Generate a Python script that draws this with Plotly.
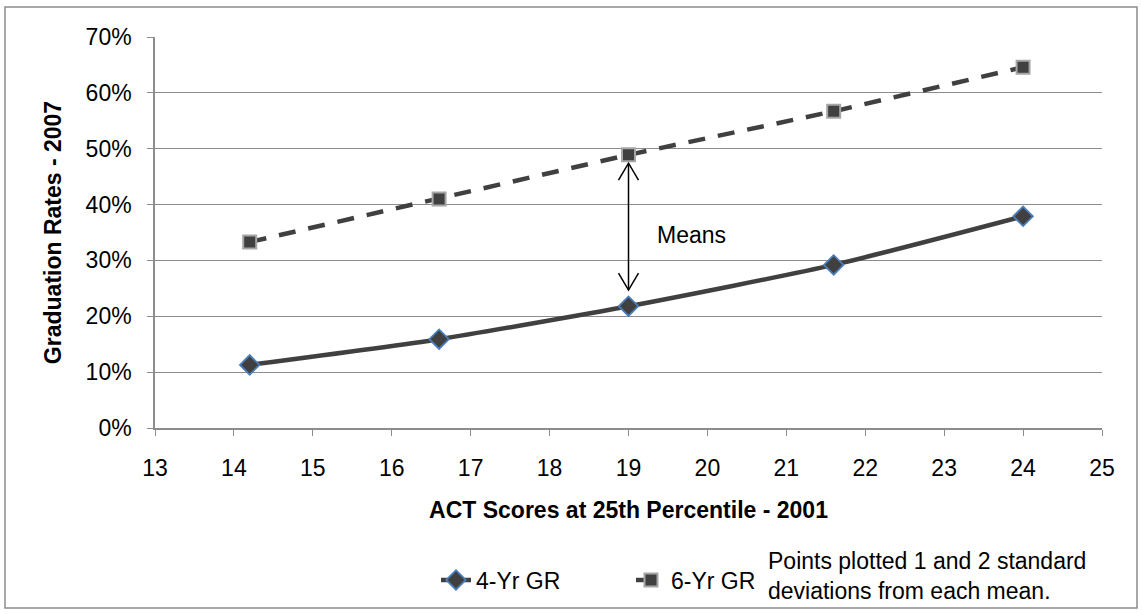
import plotly.graph_objects as go

# ACT score points (mean, +/-1 and +/-2 SD) and graduation rates
act_scores = [14.2, 16.6, 19.0, 21.6, 24.0]
grad_4yr = [0.113, 0.159, 0.218, 0.292, 0.379]
grad_6yr = [0.333, 0.410, 0.489, 0.567, 0.646]

# Double-headed arrow between the two means
mean_x = 19.0
arrow_top = 0.474
arrow_bottom = 0.247

y_ticks = [0, 0.1, 0.2, 0.3, 0.4, 0.5, 0.6, 0.7]
x_ticks = list(range(13, 26))

LINE = "#404040"
GRID = "#8c8c8c"
FONT = "Liberation Sans, Arial, sans-serif"
FS = 23

fig = go.Figure()

fig.add_trace(go.Scatter(
    x=act_scores, y=grad_4yr, name="4-Yr GR",
    mode="lines+markers",
    line=dict(color=LINE, width=4.5, shape="spline", smoothing=0.6),
    marker=dict(symbol="diamond", size=15, color=LINE,
                line=dict(color="#4a7ebb", width=1.8)),
))
fig.add_trace(go.Scatter(
    x=act_scores, y=grad_6yr, name="6-Yr GR",
    mode="lines+markers",
    line=dict(color=LINE, width=4.5, dash="17px,13px"),
    marker=dict(symbol="square", size=13, color=LINE,
                line=dict(color="#a6a6a6", width=2)),
))

# arrow shaft
fig.add_shape(
    type="line", xref="x", yref="y",
    x0=mean_x, x1=mean_x, y0=arrow_bottom, y1=arrow_top,
    line=dict(color="black", width=1.5),
)
# open arrow heads, sized in pixels around each tip
fig.add_shape(
    type="path", xref="x", yref="y",
    xsizemode="pixel", ysizemode="pixel",
    xanchor=mean_x, yanchor=arrow_top,
    path="M -10,-17 L 0,0 L 10,-17",
    line=dict(color="black", width=1.5),
)
fig.add_shape(
    type="path", xref="x", yref="y",
    xsizemode="pixel", ysizemode="pixel",
    xanchor=mean_x, yanchor=arrow_bottom,
    path="M -10,17 L 0,0 L 10,17",
    line=dict(color="black", width=1.5),
)

fig.add_annotation(
    x=19.33, y=0.345, xref="x", yref="y", xanchor="left",
    text="Means", showarrow=False, font=dict(size=FS, color="black"),
)
fig.add_annotation(
    x=(766 - 155) / 947, y=(428 - 576) / 391, xref="paper", yref="paper",
    xanchor="left", yanchor="middle", align="left",
    text="Points plotted 1 and 2 standard<br>deviations from each mean.",
    showarrow=False, font=dict(size=FS, color="black"),
)

# outer chart frame
fig.add_shape(
    type="rect", xref="paper", yref="paper",
    x0=(5 - 155) / 947, x1=(1137 - 155) / 947,
    y0=(428 - 608) / 391, y1=(428 - 7) / 391,
    line=dict(color="#8c8c8c", width=1.5), fillcolor="rgba(0,0,0,0)",
    layer="below",
)

fig.update_layout(
    width=1142, height=614,
    margin=dict(l=155, r=40, t=37, b=186),
    paper_bgcolor="white", plot_bgcolor="white",
    font=dict(family=FONT, size=FS, color="black"),
    showlegend=True,
    legend=dict(
        orientation="h", x=(436 - 155) / 947, xanchor="left",
        y=(428 - 580) / 391, yanchor="middle",
        font=dict(size=FS), entrywidth=150, entrywidthmode="pixels",
        tracegroupgap=0, bgcolor="rgba(0,0,0,0)",
    ),
    xaxis=dict(
        range=[13, 25], tickvals=x_ticks, ticks="outside", ticklen=6,
        tickcolor=GRID, showline=True, linecolor=GRID, linewidth=1.5,
        showgrid=False, zeroline=False, tickfont=dict(size=FS),
        ticklabelstandoff=13,
        title=dict(text="<b>ACT Scores at 25th Percentile - 2001</b>",
                   font=dict(size=FS), standoff=22),
    ),
    yaxis=dict(
        range=[0, 0.7], tickvals=y_ticks, tickformat=".0%",
        ticks="outside", ticklen=6, tickcolor=GRID,
        showline=True, linecolor=GRID, linewidth=1.5, tickfont=dict(size=FS),
        ticklabelstandoff=11,
        showgrid=True, gridcolor=GRID, gridwidth=1.2, zeroline=False,
        title=dict(text="<b>Graduation Rates - 2007</b>",
                   font=dict(size=FS), standoff=18),
    ),
)

fig.write_html("out.html")
